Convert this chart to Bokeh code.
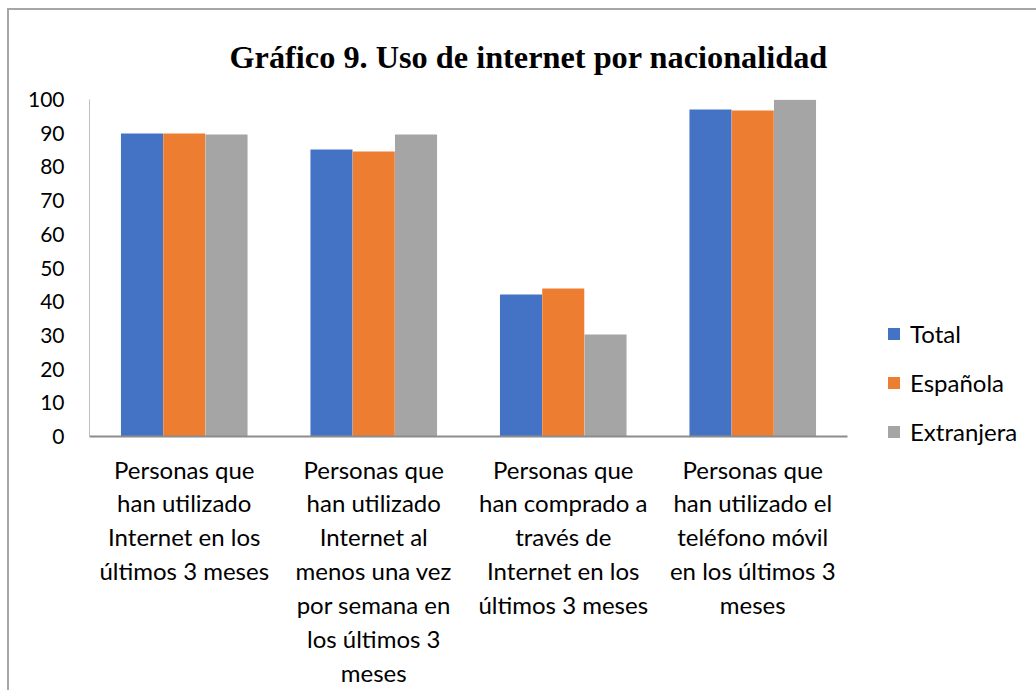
from bokeh.plotting import figure
from bokeh.models import (ColumnDataSource, FactorRange, Legend, LegendItem,
                          SingleIntervalTicker, Title)
from bokeh.transform import dodge
from bokeh.embed import file_html
from bokeh.resources import INLINE

# ---- data ----
categories = [
    "Personas que\nhan utilizado\nInternet en los\núltimos 3 meses",
    "Personas que\nhan utilizado\nInternet al\nmenos una vez\npor semana en\nlos últimos 3\nmeses",
    "Personas que\nhan comprado a\ntravés de\nInternet en los\núltimos 3 meses",
    "Personas que\nhan utilizado el\nteléfono móvil\nen los últimos 3\nmeses",
]
total = [89.9, 85.2, 42.1, 97.0]
espanola = [89.9, 84.6, 43.9, 96.7]
extranjera = [89.6, 89.6, 30.3, 99.9]
series_names = ["Total", "Española", "Extranjera"]
colors = ["#4472C4", "#ED7D31", "#A5A5A5"]
y_ticks_interval = 10

src = ColumnDataSource(dict(cat=categories, total=total, esp=espanola, ext=extranjera))

FONT = "Lato"

p = figure(
    x_range=FactorRange(*categories, range_padding=0),
    y_range=(0, 100),
    frame_width=758, frame_height=337,
    output_backend="svg", toolbar_location=None,
    min_border_left=80, min_border_top=89, min_border_right=170, min_border_bottom=100,
)
p.styles = {"border-left": "2px solid #a6a6a6", "border-top": "2px solid #a6a6a6",
            "margin-left": "7px", "margin-top": "8px"}
p.outline_line_color = None
p.xgrid.grid_line_color = None
p.ygrid.grid_line_color = None
p.background_fill_color = "white"
p.border_fill_color = "white"

bw = 0.222
r1 = p.vbar(x=dodge("cat", -0.223, range=p.x_range), top="total", width=bw, source=src,
            fill_color=colors[0], line_color=None)
r2 = p.vbar(x=dodge("cat", 0.0, range=p.x_range), top="esp", width=bw, source=src,
            fill_color=colors[1], line_color=None)
r3 = p.vbar(x=dodge("cat", 0.223, range=p.x_range), top="ext", width=bw, source=src,
            fill_color=colors[2], line_color=None)

# title
t = Title(text="Gráfico 9. Uso de internet por nacionalidad", align="left", offset=140,
          text_font="Liberation Serif", text_font_style="bold", text_font_size="32.3px",
          text_color="black", standoff=50)
p.add_layout(t, "above")

# y axis
p.yaxis.ticker = SingleIntervalTicker(interval=y_ticks_interval)
p.yaxis.major_tick_line_color = None
p.yaxis.minor_tick_line_color = None
p.yaxis.major_label_standoff = 19
p.yaxis.major_label_text_font = FONT
p.yaxis.major_label_text_font_size = "21px"
p.yaxis.major_label_text_color = "black"
p.yaxis.axis_line_color = "#bfbfbf"
p.yaxis.axis_line_width = 1

# x axis
p.xaxis.major_tick_line_color = None
p.xaxis.minor_tick_line_color = None
p.xaxis.major_label_standoff = 12
p.xaxis.major_label_text_font = FONT
p.xaxis.major_label_text_font_size = "24px"
p.xaxis.major_label_text_color = "black"
p.xaxis.major_label_text_line_height = 1.17
p.xaxis.axis_line_color = "#8c8c8c"
p.xaxis.axis_line_width = 2

legend = Legend(items=[LegendItem(label=series_names[0], renderers=[r1]),
                       LegendItem(label=series_names[1], renderers=[r2]),
                       LegendItem(label=series_names[2], renderers=[r3])],
                location=(39, -10), orientation="vertical",
                glyph_width=15, glyph_height=15, label_standoff=9,
                label_text_font=FONT, label_text_font_size="24px",
                label_text_color="black", spacing=20, padding=0, margin=0,
                border_line_color=None, background_fill_alpha=0)
p.add_layout(legend, "right")

open("out.html", "w").write(file_html(p, INLINE))
